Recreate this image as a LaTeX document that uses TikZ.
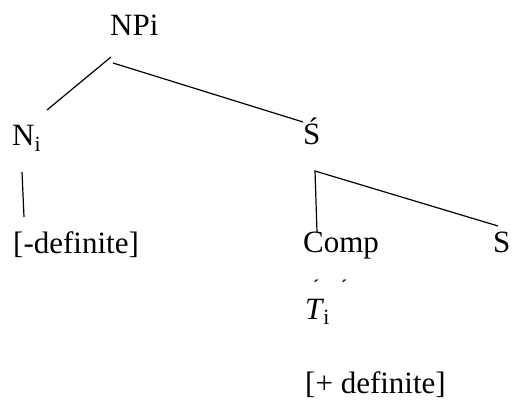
\documentclass[tikz,border=0pt]{standalone}
\usepackage{fontspec}
\setmainfont{Liberation Serif}
\usepackage{tikz}
\usetikzlibrary{positioning,calc}

\tikzset{
    cat/.style={inner sep=0pt, anchor=base west, font=\fontsize{31}{37}\selectfont},
    tick/.style={inner sep=0pt, anchor=base, text depth=0pt, font=\fontsize{18}{18}\selectfont\bfseries},
    branch/.style={line width=1.2pt}
}

\begin{document}
\begin{tikzpicture}[x=1pt,y=-1pt]
                \useasboundingbox (0,0) rectangle (514,401);
                \node[cat] (np) at (110,36) {NPi};
                \node[cat] (n) at (12,146) {N\textsubscript{i}};
                \node[cat] (def) at (13,253) {[-definite]};
                \node[cat] (sbar) at (303,145) {Ś};
                \node[cat] (comp) at (303,252) {Comp};
                \node[cat] (s) at (493,252) {S};
                \node[tick] (ta) at (316,292) {´};
                \node[tick] (tb) at (344,292) {´};
                \node[cat] (t) at (305,319) {\textit{T}\kern-1pt\textsubscript{i}};
                \node[cat] (pdef) at (305,393) {[+ definite]};
                % branches
                \draw[branch] ([shift={(1,21)}]np.base west) -- ([shift={(35,-36)}]n.base west);
                \draw[branch] ([shift={(3,27)}]np.base west) -- ([shift={(0,-23)}]sbar.base west);
                \draw[branch] ([shift={(10,26)}]n.base west) -- ([shift={(11,-36)}]def.base west);
                \draw[branch] ([shift={(14,-20)}]comp.base west) -- ([shift={(12,26)}]sbar.base west)
                    -- ([shift={(5,-26)}]s.base west);
            \end{tikzpicture}
\end{document}
